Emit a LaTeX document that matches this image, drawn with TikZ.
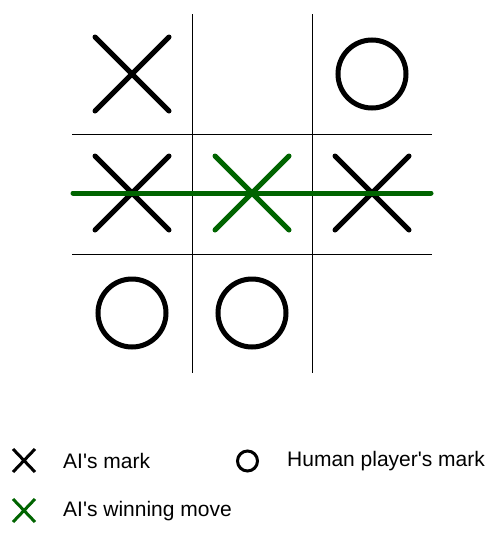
\documentclass[tikz,border=0pt]{standalone}
\usepackage{fontspec}
\setmainfont{Liberation Sans}
\definecolor{wingreen}{HTML}{006400}
\tikzset{
  ai/.style={line width=5pt,line cap=round},
  human/.style={line width=5pt},
  legendtext/.style={anchor=west,inner sep=0pt,font=\fontsize{21}{25}\selectfont}
}
\begin{document}
\begin{tikzpicture}[x=1pt,y=-1pt]
  \useasboundingbox (0,0) rectangle (500,536);
  % board
  \foreach \p in {192,312} {
    \draw[line width=1pt] (\p,14) -- (\p,373);
    \draw[line width=1pt] (72,\p-58) -- (432,\p-58);
  }
  % marks
  \foreach \cx/\cy in {132/74,132/193,372/193} {
    \draw[ai] (\cx-37,\cy-37) -- (\cx+37,\cy+37) (\cx+37,\cy-37) -- (\cx-37,\cy+37);
  }
  \draw[ai,wingreen] (252-37,193-37) -- (252+37,193+37) (252+37,193-37) -- (252-37,193+37);
  \foreach \cx/\cy in {372/74,132/313,252/313} {
    \draw[human] (\cx,\cy) circle (34);
  }
  \draw[ai,wingreen] (73,193) -- (431,193);
  % legend
  \draw[line width=3pt] (13,449) -- (35,472) (35,449) -- (13,472);
  \node[legendtext] (aimark) at (63,461) {AI\textquotesingle s mark};
  \draw[line width=3pt] (247.5,461) circle (10);
  \node[legendtext] (humanmark) at (287,461) {Human player\textquotesingle s mark};
  \draw[line width=3pt,wingreen] (13,499) -- (35,522) (35,499) -- (13,522);
  \node[legendtext] (aiwin) at (63,511) {AI\textquotesingle s winning move};
\end{tikzpicture}
\end{document}
